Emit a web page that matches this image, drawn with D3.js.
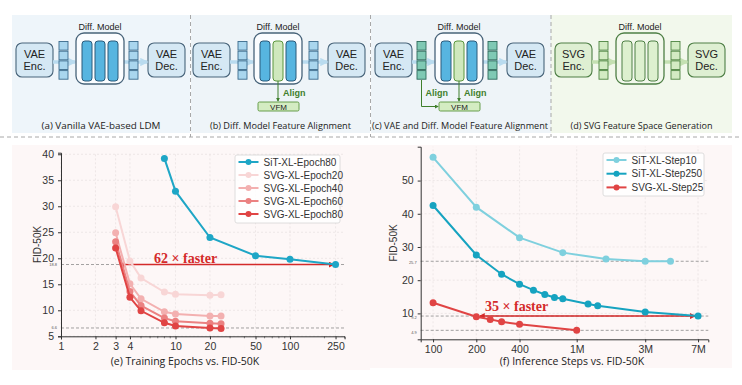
<!DOCTYPE html>
<html>
<head>
<meta charset="utf-8">
<script src="https://cdn.jsdelivr.net/npm/d3@7"></script>
<style>
  body { margin: 0; background: #fff; }
  svg { display: block; }
  .tick text { font-family: "Liberation Sans", Arial, sans-serif; fill: #333; }
  .caption { font-family: "Open Sans", "Noto Sans", sans-serif; font-size: 9.2px; fill: #222; }
  .box-text { font-family: "Liberation Sans", Arial, sans-serif; font-size: 11px; fill: #222; }
  .small-label { font-family: "Liberation Sans", Arial, sans-serif; font-size: 9px; fill: #222; }
  .legend text { font-family: "Liberation Sans", Arial, sans-serif; font-size: 10px; fill: #333; }
  .faster { font-family: "Liberation Serif", "DejaVu Serif", serif; font-weight: bold; font-size: 14px; fill: #d42a2a; }
</style>
</head>
<body>
<svg></svg>
<script>
// ---- chart data (e) ----
const epochTicks = [1, 2, 3, 4, 10, 20, 50, 100, 250];
const fidTicksL = [5, 10, 15, 20, 25, 30, 35, 40];
const sitEpochX = [8, 10, 20, 50, 100, 250];
const sitEpoch80 = [39.2, 32.9, 24.0, 20.5, 19.8, 18.8];
const svgEpochX = [3, 4, 5, 8, 10, 20, 25];
const svgEpoch20 = [29.9, 19.5, 16.2, 13.5, 13.1, 12.9, 13.0];
const svgEpoch40 = [24.9, 15.1, 12.2, 9.7, 9.3, 8.9, 8.9];
const svgEpoch60 = [23.2, 13.6, 10.9, 8.5, 7.9, 7.5, 7.4];
const svgEpoch80 = [22.0, 12.5, 9.9, 7.6, 7.0, 6.6, 6.5];
const refLinesL = [18.8, 6.6];
const speedupL = [3.3, 240];   // arrow span in epochs, at FID 18.8

// ---- chart data (f) ----
const stepTicks = [100, 200, 400, 1000, 3000, 7000];
const stepTickLabels = ["100", "200", "400", "1M", "3M", "7M"];
const fidTicksR = [10, 20, 30, 40, 50];
const stepX10 = [100, 200, 400, 800, 1600, 3000, 4500];
const sitStep10 = [57.0, 42.0, 32.8, 28.3, 26.4, 25.7, 25.7];
const stepX250 = [100, 200, 300, 400, 500, 600, 700, 800, 1200, 1400, 3000, 7000];
const sitStep250 = [42.5, 27.6, 21.8, 18.8, 17.0, 15.7, 14.8, 14.4, 12.8, 12.3, 10.4, 9.2];
const stepX25 = [100, 200, 250, 300, 400, 1000];
const svgStep25 = [13.2, 9.0, 8.2, 7.5, 6.7, 4.9];
const refLinesR = [25.7, 9.2, 4.9];
const speedupR = [212, 6650];  // arrow span, at FID 9.2

const w = 742;
const h = 385;

const svg = d3.select("svg")
  .attr("width", w)
  .attr("height", h);

svg.append("rect").attr("width", w).attr("height", h).attr("fill", "#fff");

const defs = svg.append("defs");
const marker = (id, color, size) => {
  defs.append("marker")
    .attr("id", id)
    .attr("viewBox", "0 0 10 10")
    .attr("refX", 8).attr("refY", 5)
    .attr("markerWidth", size).attr("markerHeight", size)
    .attr("orient", "auto-start-reverse")
    .append("path")
    .attr("d", "M0,0 L10,5 L0,10 z")
    .attr("fill", color);
};
marker("arrRed", "#d42a2a", 4);
marker("arrGreen", "#3f7f2c", 4);
marker("arrBlue", "#b9dbef", 2.4);
marker("arrLGreen", "#c4e0b2", 2.4);

// ================= top diagrams =================
const panels = [
  { x0: 12, x1: 190, bg: "#eef5fa", caption: "(a) Vanilla VAE-based LDM", capW: 119, enc: ["VAE", "Enc."], dec: ["VAE", "Dec."],
    encX: 16, tokL: 59, diff: 76, tokR: 129, decX: 148, bars: ["b", "b", "b"], tok: "blue", theme: "blue", align: 0 },
  { x0: 191, x1: 370, bg: "#eef4f8", caption: "(b) Diff. Model Feature Alignment", capW: 141, enc: ["VAE", "Enc."], dec: ["VAE", "Dec."],
    encX: 193, tokL: 238, diff: 254, tokR: 309, decX: 328, bars: ["b", "g", "b"], tok: "blue", theme: "blue", align: 1 },
  { x0: 371, x1: 551, bg: "#eef4f8", caption: "(c) VAE and Diff. Model Feature Alignment", capW: 176, enc: ["VAE", "Enc."], dec: ["VAE", "Dec."],
    encX: 375, tokL: 417, diff: 435, tokR: 488, decX: 507, bars: ["b", "g", "b"], tok: "teal", theme: "blue", align: 2 },
  { x0: 551, x1: 732, bg: "#f2f8ec", caption: "(d) SVG Feature Space Generation", capW: 142, enc: ["SVG", "Enc."], dec: ["SVG", "Dec."],
    encX: 555, tokL: 599, diff: 616, tokR: 671, decX: 688, bars: ["l", "l", "l"], tok: "green", theme: "green", align: 0 }
];

const tokStyle = {
  blue: { fill: "#a9d6ee", stroke: "#3b6b8c" },
  teal: { fill: "#7fc9b4", stroke: "#2f6a5c" },
  green: { fill: "#d3ebc3", stroke: "#4d8440" }
};
const barStyle = {
  b: { fill: "#57b5e0", stroke: "#2b5a7a" },
  g: { fill: "#cfe8bd", stroke: "#5a953d" },
  l: { fill: "#ddf0cf", stroke: "#4d7f44" }
};

const diagrams = svg.append("g").attr("class", "diagrams");

panels.forEach((p) => {
  const g = diagrams.append("g");
  const blue = p.theme === "blue";
  const boxFill = blue ? "#d5e8f4" : "#deefd2";
  const boxStroke = blue ? "#48647a" : "#4e7f45";
  const arrowColor = blue ? "#b9dbef" : "#c4e0b2";
  const arrowId = blue ? "arrBlue" : "arrLGreen";

  g.append("rect")
    .attr("x", p.x0).attr("y", 15)
    .attr("width", p.x1 - p.x0).attr("height", 118)
    .attr("fill", p.bg);

  // encoder & decoder
  [[p.encX, p.enc], [p.decX, p.dec]].forEach(([bx, lines]) => {
    g.append("rect")
      .attr("x", bx).attr("y", 43)
      .attr("width", 37).attr("height", 34)
      .attr("rx", 6)
      .attr("fill", boxFill)
      .attr("stroke", boxStroke)
      .attr("stroke-width", 1.1);
    lines.forEach((t, i) => {
      g.append("text")
        .attr("class", "box-text")
        .attr("x", bx + 18.5).attr("y", 58 + i * 12)
        .attr("text-anchor", "middle")
        .text(t);
    });
  });

  // faint flow arrows
  [[p.encX + 37, p.diff - 1], [p.diff + 48, p.decX - 1]].forEach(([a, b]) => {
    g.append("line")
      .attr("x1", a).attr("x2", b)
      .attr("y1", 62).attr("y2", 62)
      .attr("stroke", arrowColor)
      .attr("stroke-width", 3.5)
      .attr("marker-end", `url(#${arrowId})`);
  });

  // latent tokens
  [p.tokL, p.tokR].forEach((tx) => {
    d3.range(4).forEach((i) => {
      g.append("rect")
        .attr("x", tx).attr("y", 41.5 + i * 9.7)
        .attr("width", 9).attr("height", 8.6)
        .attr("fill", tokStyle[p.tok].fill)
        .attr("stroke", tokStyle[p.tok].stroke)
        .attr("stroke-width", 0.9);
    });
  });

  // diffusion model block
  g.append("text")
    .attr("class", "small-label")
    .attr("x", p.diff + 24).attr("y", 30)
    .attr("text-anchor", "middle")
    .text("Diff. Model");
  g.append("rect")
    .attr("x", p.diff).attr("y", 33)
    .attr("width", 48).attr("height", 51)
    .attr("rx", 8)
    .attr("fill", blue ? "#fbfdff" : p.bg)
    .attr("stroke", boxStroke)
    .attr("stroke-width", 1.3);
  p.bars.forEach((b, i) => {
    g.append("rect")
      .attr("x", p.diff + 6 + i * 13).attr("y", 41)
      .attr("width", 10).attr("height", 40)
      .attr("rx", 3)
      .attr("fill", barStyle[b].fill)
      .attr("stroke", barStyle[b].stroke)
      .attr("stroke-width", 1);
  });

  // VFM alignment
  if (p.align > 0) {
    const vx = p.diff + 4;
    g.append("rect")
      .attr("x", vx).attr("y", 102)
      .attr("width", 41).attr("height", 9)
      .attr("rx", 1.5)
      .attr("fill", "#d4ecc2")
      .attr("stroke", "#5a953d")
      .attr("stroke-width", 0.9);
    g.append("text")
      .attr("class", "small-label")
      .attr("x", vx + 20.5).attr("y", 109.7)
      .attr("text-anchor", "middle")
      .style("font-size", "8px")
      .text("VFM");
    const cx = p.diff + 24;
    g.append("line")
      .attr("x1", cx).attr("x2", cx)
      .attr("y1", 81).attr("y2", 101)
      .attr("stroke", "#3f7f2c").attr("stroke-width", 1)
      .attr("marker-end", "url(#arrGreen)");
    g.append("text")
      .attr("class", "small-label")
      .attr("x", cx + 5).attr("y", 96)
      .style("fill", "#3f7f2c")
      .style("font-weight", "bold")
      .text("Align");
    if (p.align > 1) {
      const lx = p.tokL + 4.5;
      g.append("path")
        .attr("d", `M${lx},80 V106.5 H${vx - 1}`)
        .attr("fill", "none")
        .attr("stroke", "#3f7f2c").attr("stroke-width", 1)
        .attr("marker-end", "url(#arrGreen)");
      g.append("text")
        .attr("class", "small-label")
        .attr("x", lx + 4).attr("y", 96)
        .style("fill", "#3f7f2c")
        .style("font-weight", "bold")
        .text("Align");
    }
  }

  g.append("text")
    .attr("class", "caption")
    .attr("x", (p.x0 + p.x1) / 2 - p.capW / 2 + (p.align === 2 ? -1 : 0)).attr("y", 129)
    .attr("textLength", p.capW)
    .attr("lengthAdjust", "spacingAndGlyphs")
    .text(p.caption);
});

// separators
diagrams.append("line")
  .attr("x1", 0).attr("x2", w).attr("y1", 137).attr("y2", 137)
  .attr("stroke", "#a8a8a8").attr("stroke-width", 1).attr("stroke-dasharray", "4,3");
[190.5, 370.5, 551].forEach((x) => {
  diagrams.append("line")
    .attr("x1", x).attr("x2", x).attr("y1", 15).attr("y2", 137)
    .attr("stroke", "#a8a8a8").attr("stroke-width", 1).attr("stroke-dasharray", "4,3");
});

// ================= charts =================
const drawChart = (cfg) => {
  const g = svg.append("g");
  const { x, y } = cfg;

  g.append("rect")
    .attr("x", cfg.bg[0]).attr("y", cfg.bg[1])
    .attr("width", cfg.bg[2]).attr("height", cfg.bg[3])
    .attr("fill", "#fdf7f7");

  const [x0, x1] = x.range();
  const [y0, y1] = y.range();

  // grid
  g.selectAll(".vgrid")
    .data(cfg.xTicks)
    .enter().append("line")
    .attr("x1", (d) => x(d)).attr("x2", (d) => x(d))
    .attr("y1", y0).attr("y2", y1)
    .attr("stroke", "#e6e0e0").attr("stroke-width", 0.7).attr("stroke-dasharray", "2,2");
  g.selectAll(".hgrid")
    .data(cfg.yTicks)
    .enter().append("line")
    .attr("x1", x0).attr("x2", x1)
    .attr("y1", (d) => y(d)).attr("y2", (d) => y(d))
    .attr("stroke", "#e6e0e0").attr("stroke-width", 0.7).attr("stroke-dasharray", "2,2");

  // reference lines
  cfg.refs.forEach((r) => {
    g.append("line")
      .attr("x1", x0).attr("x2", x1)
      .attr("y1", y(r)).attr("y2", y(r))
      .attr("stroke", "#8a8a8a").attr("stroke-width", 0.8).attr("stroke-dasharray", "3,2");
    g.append("text")
      .attr("x", x0 - 4).attr("y", y(r) + cfg.refDy)
      .attr("text-anchor", "end")
      .style("font-family", "Liberation Sans, Arial, sans-serif")
      .style("font-size", "4px")
      .style("fill", "#555")
      .text(r);
  });

  // axes
  const xAxis = d3.axisBottom(x)
    .tickValues(cfg.xTicks)
    .tickFormat((d, i) => cfg.xLabels[i])
    .tickSize(3);
  const ax = g.append("g")
    .attr("transform", `translate(0,${y0})`)
    .call(xAxis);
  const yAxis = d3.axisLeft(y).tickValues(cfg.yTicks).tickSize(3).tickPadding(4);
  const ay = g.append("g")
    .attr("transform", `translate(${x0},0)`)
    .call(yAxis);
  [ax, ay].forEach((a) => {
    a.select(".domain").attr("stroke", "#333").attr("stroke-width", 1);
    a.selectAll(".tick line").attr("stroke", "#333");
    a.selectAll(".tick text").style("font-size", "10.5px");
  });
  if (cfg.minor) {
    g.selectAll(".minor")
      .data(cfg.minor)
      .enter().append("line")
      .attr("x1", (d) => x(d)).attr("x2", (d) => x(d))
      .attr("y1", y0).attr("y2", y0 + 2)
      .attr("stroke", "#333").attr("stroke-width", 0.6);
  }

  g.append("text")
    .attr("transform", `translate(${cfg.ylabelX},${(y0 + y1) / 2}) rotate(-90)`)
    .attr("text-anchor", "middle")
    .style("font-family", "Liberation Sans, Arial, sans-serif")
    .style("font-size", "10px")
    .style("fill", "#333")
    .text("FID-50K");

  // speed-up arrow
  g.append("line")
    .attr("x1", x(cfg.speedup[0])).attr("x2", x(cfg.speedup[1]))
    .attr("y1", y(cfg.speedupY)).attr("y2", y(cfg.speedupY))
    .attr("stroke", "#d42a2a").attr("stroke-width", 1.5)
    .attr("marker-start", "url(#arrRed)")
    .attr("marker-end", "url(#arrRed)");
  g.append("text")
    .attr("class", "faster")
    .attr("x", cfg.fasterAt[0]).attr("y", cfg.fasterAt[1])
    .text(cfg.fasterText);

  // series
  const line = d3.line().x((d) => x(d[0])).y((d) => y(d[1]));
  cfg.series.forEach((s) => {
    const pts = s.xs.map((v, i) => [v, s.ys[i]]);
    const sg = g.append("g");
    sg.append("path")
      .datum(pts)
      .attr("d", line)
      .attr("fill", "none")
      .attr("stroke", s.color)
      .attr("stroke-width", 2);
    sg.selectAll("circle")
      .data(pts)
      .enter().append("circle")
      .attr("cx", (d) => x(d[0]))
      .attr("cy", (d) => y(d[1]))
      .attr("r", 3.5)
      .attr("fill", s.color);
  });

  // legend
  const lg = g.append("g").attr("class", "legend");
  const [lx, ly, lw, lh, step] = cfg.legend;
  lg.append("rect")
    .attr("x", lx).attr("y", ly).attr("width", lw).attr("height", lh)
    .attr("rx", 2)
    .attr("fill", "#fff").attr("fill-opacity", 0.85)
    .attr("stroke", "#d6d6d6").attr("stroke-width", 0.8);
  cfg.legendOrder.forEach((s, i) => {
    const yy = ly + 7 + i * step;
    lg.append("line")
      .attr("x1", lx + 3.5).attr("x2", lx + 23.5)
      .attr("y1", yy).attr("y2", yy)
      .attr("stroke", s.color).attr("stroke-width", 2);
    lg.append("circle")
      .attr("cx", lx + 13.5).attr("cy", yy).attr("r", 3)
      .attr("fill", s.color);
    lg.append("text")
      .attr("x", lx + 28.5).attr("y", yy + 3.6)
      .text(s.name);
  });

  g.append("text")
    .attr("class", "caption")
    .attr("x", cfg.captionAt[0]).attr("y", cfg.captionAt[1])
    .attr("text-anchor", "middle")
    .style("font-size", "10.5px")
    .text(cfg.caption);
};

// (e) training epochs
const xL = d3.scaleLog().domain([1, 300]).range([61, 344.6]);
const yL = d3.scaleLinear().domain([5, 40.3]).range([336.3, 152.7]);
const sitE = { name: "SiT-XL-Epoch80", xs: sitEpochX, ys: sitEpoch80, color: "#1ea6c6" };
const e20 = { name: "SVG-XL-Epoch20", xs: svgEpochX, ys: svgEpoch20, color: "#f8d6d6" };
const e40 = { name: "SVG-XL-Epoch40", xs: svgEpochX, ys: svgEpoch40, color: "#f3b0b0" };
const e60 = { name: "SVG-XL-Epoch60", xs: svgEpochX, ys: svgEpoch60, color: "#eb8181" };
const e80 = { name: "SVG-XL-Epoch80", xs: svgEpochX, ys: svgEpoch80, color: "#e04444" };

drawChart({
  x: xL, y: yL,
  bg: [12, 145, 358, 225],
  xTicks: epochTicks, xLabels: epochTicks.map(String),
  minor: [5, 6, 7, 8, 9, 30, 40, 60, 70, 80, 90, 200, 300],
  yTicks: fidTicksL,
  refs: refLinesL, refDy: 1.5,
  ylabelX: 41,
  speedup: speedupL, speedupY: refLinesL[0],
  fasterText: "62 × faster", fasterAt: [154, 263],
  series: [e20, e40, e60, e80, sitE],
  legendOrder: [sitE, e20, e40, e60, e80],
  legend: [235, 155, 105, 68, 13],
  caption: "(e) Training Epochs vs. FID-50K", captionAt: [185, 365]
});

// (f) inference steps
const xR = d3.scaleLog().domain([82, 8250]).range([420.7, 708.3]);
const yR = d3.scaleLinear().domain([2.2, 60.2]).range([339.3, 146.7]);
const s10 = { name: "SiT-XL-Step10", xs: stepX10, ys: sitStep10, color: "#7fd0de" };
const s250 = { name: "SiT-XL-Step250", xs: stepX250, ys: sitStep250, color: "#16a3c0" };
const s25 = { name: "SVG-XL-Step25", xs: stepX25, ys: svgStep25, color: "#e04444" };

drawChart({
  x: xR, y: yR,
  bg: [370, 145, 362, 223],
  xTicks: stepTicks, xLabels: stepTickLabels,
  yTicks: fidTicksR,
  refs: refLinesR, refDy: 3.2,
  ylabelX: 397,
  speedup: speedupR, speedupY: refLinesR[1],
  fasterText: "35 × faster", fasterAt: [485, 311],
  series: [s10, s250, s25],
  legendOrder: [s10, s250, s25],
  legend: [603, 153, 101, 43, 13.7],
  caption: "(f) Inference Steps vs. FID-50K", captionAt: [572, 365]
});
</script>
</body>
</html>
